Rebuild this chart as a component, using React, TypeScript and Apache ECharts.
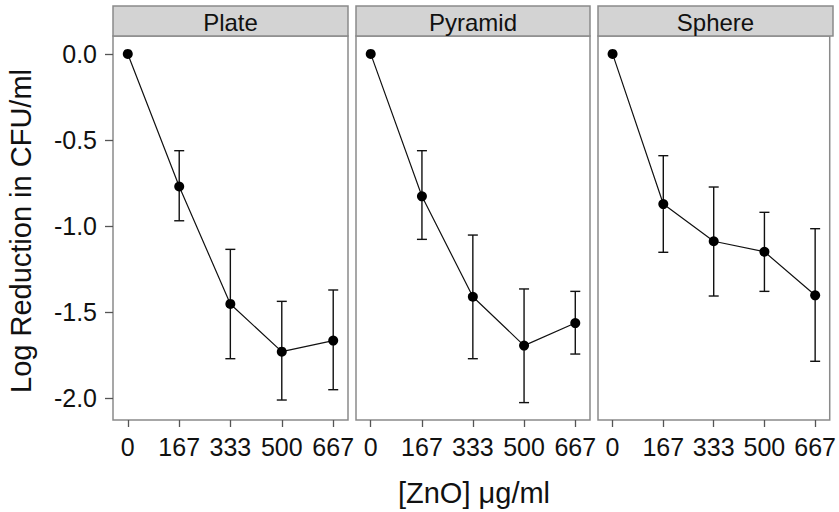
import React, { useEffect, useRef } from "react";
import * as echarts from "echarts";

const panels = ["Plate", "Pyramid", "Sphere"];
const doses = [0, 167, 333, 500, 667];
const yTicks = [0, -0.5, -1.0, -1.5, -2.0];

const plateMean = [0, -0.77, -1.452, -1.729, -1.665];
const plateLow = [null, -0.969, -1.77, -2.01, -1.95];
const plateHigh = [null, -0.562, -1.135, -1.437, -1.371];

const pyramidMean = [0, -0.827, -1.41, -1.694, -1.563];
const pyramidLow = [null, -1.077, -1.77, -2.025, -1.743];
const pyramidHigh = [null, -0.562, -1.052, -1.365, -1.379];

const sphereMean = [0, -0.872, -1.088, -1.149, -1.402];
const sphereLow = [null, -1.152, -1.406, -1.379, -1.785];
const sphereHigh = [null, -0.591, -0.773, -0.92, -1.015];

const means = [plateMean, pyramidMean, sphereMean];
const lows = [plateLow, pyramidLow, sphereLow];
const highs = [plateHigh, pyramidHigh, sphereHigh];

const FONT = "'Liberation Sans', Arial, Helvetica, sans-serif";
const BORDER = "#8a8a8a";

const gridBoxes = [
  { left: 113, width: 235 },
  { left: 356, width: 234 },
  { left: 598, width: 235 },
];
const TOP = 36;
const BOTTOM_Y = 420;
const HEADER_TOP = 6;

export default function App() {
  const ref = useRef<HTMLDivElement>(null);
  useEffect(() => {
    if (!ref.current) return;
    const chart = echarts.init(ref.current, undefined, { renderer: "svg" });

    const grids = gridBoxes.map((g) => ({
      left: g.left,
      width: g.width,
      top: TOP,
      height: BOTTOM_Y - TOP,
      show: true,
      borderColor: BORDER,
      borderWidth: 1.5,
      backgroundColor: "#ffffff",
      containLabel: false,
    }));

    const xAxes = gridBoxes.map((_, i) => ({
      type: "value",
      gridIndex: i,
      position: "bottom",
      min: -48,
      max: 715,
      axisLine: { show: false, onZero: false },
      splitLine: { show: false },
      axisTick: {
        show: true,
        length: 7,
        customValues: doses,
        lineStyle: { color: "#555", width: 1.3 },
      },
      axisLabel: {
        customValues: doses,
        margin: 14,
        fontSize: 25,
        fontFamily: FONT,
        color: "#111",
        formatter: (v: number) => String(v),
      },
    }));

    const yAxes = gridBoxes.map((_, i) => ({
      type: "value",
      gridIndex: i,
      position: "left",
      min: -2.126,
      max: 0.104,
      axisLine: { show: false, onZero: false },
      splitLine: { show: false },
      axisTick: {
        show: i === 0,
        length: 8,
        customValues: yTicks,
        lineStyle: { color: "#555", width: 1.3 },
      },
      axisLabel: {
        show: i === 0,
        customValues: yTicks,
        margin: 16,
        fontSize: 25,
        fontFamily: FONT,
        color: "#111",
        formatter: (v: number) => v.toFixed(1),
      },
    }));

    const series: any[] = [];
    panels.forEach((_, i) => {
      const errData = doses
        .map((d, k) => [d, lows[i][k], highs[i][k]])
        .filter((r) => r[1] !== null && r[2] !== null);
      series.push({
        type: "custom",
        xAxisIndex: i,
        yAxisIndex: i,
        clip: false,
        data: errData,
        renderItem: (params: any, api: any) => {
          const x = api.value(0);
          const lo = api.coord([x, api.value(1)]);
          const hi = api.coord([x, api.value(2)]);
          const cw = 5;
          const style = { stroke: "#111", lineWidth: 1.4 };
          return {
            type: "group",
            children: [
              { type: "line", shape: { x1: lo[0], y1: lo[1], x2: hi[0], y2: hi[1] }, style },
              { type: "line", shape: { x1: lo[0] - cw, y1: lo[1], x2: lo[0] + cw, y2: lo[1] }, style },
              { type: "line", shape: { x1: hi[0] - cw, y1: hi[1], x2: hi[0] + cw, y2: hi[1] }, style },
            ],
          };
        },
        z: 2,
      });
      series.push({
        type: "line",
        xAxisIndex: i,
        yAxisIndex: i,
        data: doses.map((d, k) => [d, means[i][k]]),
        symbol: "circle",
        symbolSize: 10,
        lineStyle: { color: "#111", width: 1.2 },
        itemStyle: { color: "#000" },
        z: 3,
      });
    });

    const graphics: any[] = [];
    gridBoxes.forEach((g, i) => {
      graphics.push({
        type: "rect",
        shape: { x: g.left, y: HEADER_TOP, width: g.width, height: TOP - HEADER_TOP },
        style: { fill: "#d3d3d3", stroke: BORDER, lineWidth: 1.5 },
      });
      graphics.push({
        type: "text",
        x: g.left + g.width / 2,
        y: (HEADER_TOP + TOP) / 2 + 1,
        style: {
          text: panels[i],
          fontSize: 24,
          fontFamily: FONT,
          fill: "#111",
          align: "center",
          verticalAlign: "middle",
        },
      });
    });
    graphics.push({
      type: "text",
      x: 21,
      y: 231,
      rotation: Math.PI / 2,
      style: {
        text: "Log Reduction in CFU/ml",
        fontSize: 29,
        fontFamily: FONT,
        fill: "#111",
        align: "center",
        verticalAlign: "middle",
      },
    });
    graphics.push({
      type: "text",
      x: 474,
      y: 493,
      style: {
        text: "[ZnO] μg/ml",
        fontSize: 29,
        fontFamily: FONT,
        fill: "#111",
        align: "center",
        verticalAlign: "middle",
      },
    });

    chart.setOption({
      animation: false,
      backgroundColor: "#ffffff",
      grid: grids,
      xAxis: xAxes,
      yAxis: yAxes,
      series,
      graphic: graphics,
    });
    return () => chart.dispose();
  }, []);

  return (
    <div
      ref={ref}
      style={{ position: "fixed", left: 0, top: 0, width: 839, height: 512, background: "#fff" }}
    />
  );
}
